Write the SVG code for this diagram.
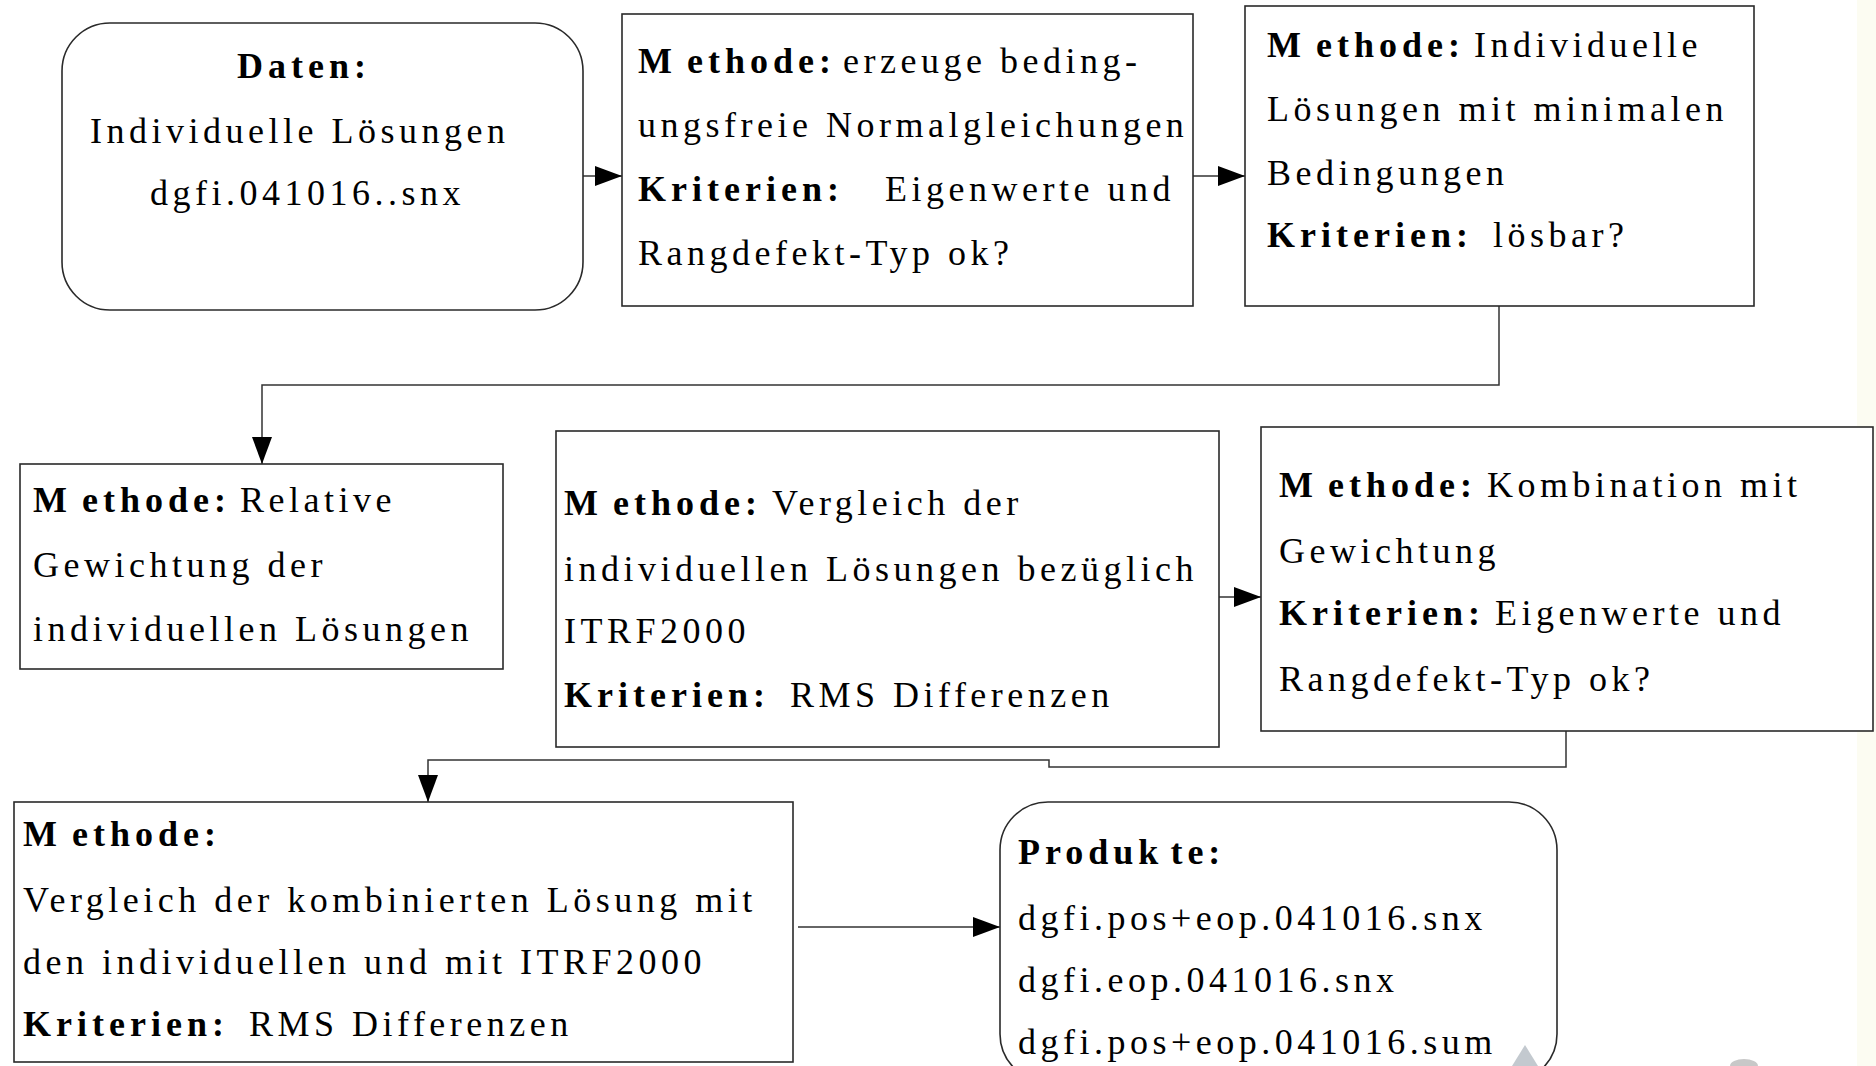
<svg xmlns="http://www.w3.org/2000/svg" width="1876" height="1066" viewBox="0 0 1876 1066">
<style>
.box{fill:#fff;stroke:#2a2a2a;stroke-width:1.6}
.t{font-family:"Liberation Serif","Times New Roman",serif;font-size:36px;fill:#000;letter-spacing:4.5px}
.b{font-weight:bold;letter-spacing:5px}
.con{fill:none;stroke:#333;stroke-width:1.5}
</style>
<defs>
<marker id="ah" markerUnits="userSpaceOnUse" markerWidth="28" markerHeight="22" refX="27" refY="10" orient="auto">
<path d="M0,0 L27,10 L0,20 Z" fill="#000"/>
</marker>
</defs>
<rect x="0" y="0" width="1876" height="1066" fill="#fff"/>
<rect x="1857" y="0" width="19" height="1066" fill="#fcfcf2"/>

<g id="connectors">
<path class="con" d="M583,176 H622" marker-end="url(#ah)"/>
<path class="con" d="M1193,176 H1245" marker-end="url(#ah)"/>
<path class="con" d="M1499,306 V385 H262 V464" marker-end="url(#ah)"/>
<path class="con" d="M1219,597 H1261" marker-end="url(#ah)"/>
<path class="con" d="M1566,731 V767 H1049 V760 H428 V802" marker-end="url(#ah)"/>
<path class="con" d="M798,927 H1000" marker-end="url(#ah)"/>
</g>

<g id="n1">
<rect class="box" x="62" y="23" width="521" height="287" rx="48" ry="48"/>
<text class="t b" x="237" y="78">Daten:</text>
<text class="t" x="90" y="143">Individuelle Lösungen</text>
<text class="t" x="150" y="205">dgfi.041016..snx</text>
</g>

<g id="n2">
<rect class="box" x="622" y="14" width="571" height="292"/>
<text class="t" x="638" y="73"><tspan class="b">M</tspan><tspan class="b" dx="10">ethode:</tspan><tspan x="843">erzeuge beding-</tspan></text>
<text class="t" x="638" y="137">ungsfreie Normalgleichungen</text>
<text class="t" x="638" y="201"><tspan class="b">Kriterien:</tspan><tspan x="885">Eigenwerte und</tspan></text>
<text class="t" x="638" y="265">Rangdefekt-Typ ok?</text>
</g>

<g id="n3">
<rect class="box" x="1245" y="6" width="509" height="300"/>
<text class="t" x="1267" y="57"><tspan class="b">M</tspan><tspan class="b" dx="10">ethode:</tspan><tspan x="1474">Individuelle</tspan></text>
<text class="t" x="1267" y="121">Lösungen mit minimalen</text>
<text class="t" x="1267" y="185">Bedingungen</text>
<text class="t" x="1267" y="247"><tspan class="b">Kriterien:</tspan><tspan x="1493">lösbar?</tspan></text>
</g>

<g id="n4">
<rect class="box" x="20" y="464" width="483" height="205"/>
<text class="t" x="33" y="512"><tspan class="b">M</tspan><tspan class="b" dx="10">ethode:</tspan><tspan x="240">Relative</tspan></text>
<text class="t" x="33" y="577">Gewichtung der</text>
<text class="t" x="33" y="641">individuellen Lösungen</text>
</g>

<g id="n5">
<rect class="box" x="556" y="431" width="663" height="316"/>
<text class="t" x="564" y="515"><tspan class="b">M</tspan><tspan class="b" dx="10">ethode:</tspan><tspan x="772">Vergleich der</tspan></text>
<text class="t" x="564" y="581">individuellen Lösungen bezüglich</text>
<text class="t" x="564" y="643">ITRF2000</text>
<text class="t" x="564" y="707"><tspan class="b">Kriterien:</tspan><tspan x="790">RMS Differenzen</tspan></text>
</g>

<g id="n6">
<rect class="box" x="1261" y="427" width="612" height="304"/>
<text class="t" x="1279" y="497"><tspan class="b">M</tspan><tspan class="b" dx="10">ethode:</tspan><tspan x="1487">Kombination mit</tspan></text>
<text class="t" x="1279" y="563">Gewichtung</text>
<text class="t" x="1279" y="625"><tspan class="b">Kriterien:</tspan><tspan x="1495">Eigenwerte und</tspan></text>
<text class="t" x="1279" y="691">Rangdefekt-Typ ok?</text>
</g>

<g id="n7">
<rect class="box" x="14" y="802" width="779" height="260"/>
<text class="t" x="23" y="846"><tspan class="b">M</tspan><tspan class="b" dx="10">ethode:</tspan></text>
<text class="t" x="23" y="912">Vergleich der kombinierten Lösung mit</text>
<text class="t" x="23" y="974">den individuellen und mit ITRF2000</text>
<text class="t" x="23" y="1036"><tspan class="b">Kriterien:</tspan><tspan x="249">RMS Differenzen</tspan></text>
</g>

<g id="n8">
<rect class="box" x="1000" y="802" width="557" height="280" rx="48" ry="48"/>
<text class="t" x="1018" y="864"><tspan class="b">Produk</tspan><tspan class="b" dx="7">te:</tspan></text>
<text class="t" x="1018" y="930">dgfi.pos+eop.041016.snx</text>
<text class="t" x="1018" y="992">dgfi.eop.041016.snx</text>
<text class="t" x="1018" y="1054">dgfi.pos+eop.041016.sum</text>
</g>

<path d="M1525,1045 L1538,1066 L1512,1066 Z" fill="#c3c9cf"/>
<ellipse cx="1744" cy="1066" rx="14" ry="7" fill="#c8c8c8"/>
</svg>
